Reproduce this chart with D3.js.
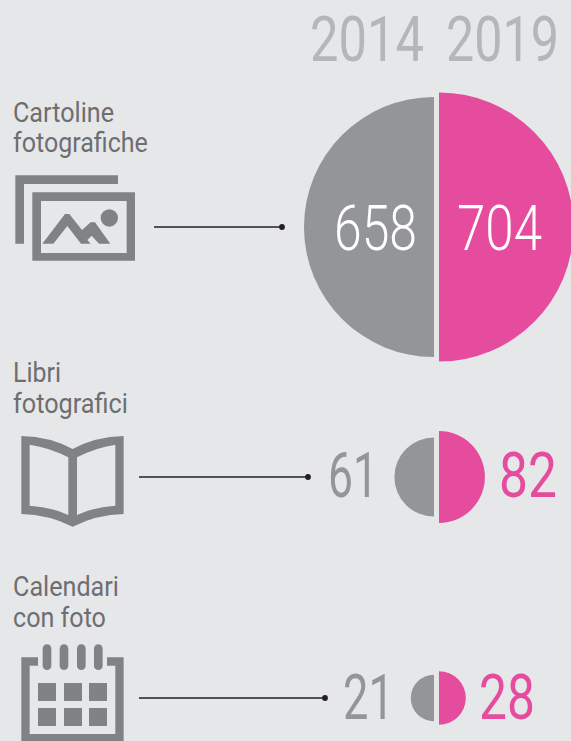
<!DOCTYPE html>
<html>
<head>
<meta charset="utf-8">
<script src="https://cdn.jsdelivr.net/npm/d3@7"></script>
<style>
  html, body { margin: 0; padding: 0; background: #e6e7e9; overflow: hidden; }
  svg { display: block; }
  text { font-family: Roboto, sans-serif; }
</style>
</head>
<body>
<div id="chart"></div>
<script>
// data
const years = ["2014", "2019"];
const categories = [["Cartoline", "fotografiche"], ["Libri", "fotografici"], ["Calendari", "con foto"]];
const values2014 = [658, 61, 21];
const values2019 = [704, 82, 28];

const width = 571, height = 741;
const grey = "#939598", pink = "#e54c9e", iconGrey = "#808285";

const svg = d3.select("#chart").append("svg")
  .attr("width", width)
  .attr("height", height)
  .style("background", "#e6e7e9");

// same scale for every half circle, the area carries the value
const rScale = d3.scaleSqrt().domain([0, 704]).range([0, 134.5]);
const arc = d3.arc().innerRadius(0);

// layout of each row
const rows = [
  {cy: 227, lineFrom: 154, lineTo: 282, labelY: [122, 152], labelW: [101, 135],
   left: {x: 334, w: 83, y: 250, fill: "#fff", weight: 300}, right: {x: 457, w: 85, y: 250, fill: "#fff", weight: 300}},
  {cy: 477, lineFrom: 139, lineTo: 308, labelY: [382, 413], labelW: [48, 115],
   left: {x: 328, w: 50, y: 497, fill: grey, weight: 400}, right: {x: 499, w: 58, y: 497, fill: pink, weight: 400}},
  {cy: 698, lineFrom: 139, lineTo: 325, labelY: [596, 627], labelW: [106, 93],
   left: {x: 343, w: 51, y: 719, fill: grey, weight: 400}, right: {x: 479, w: 56, y: 719, fill: pink, weight: 400}}
];

// squeeze the text horizontally to a given width (the reference uses a condensed cut)
function fitText(sel, x, y, w, size, fill, weight, str) {
  const t = sel.append("text")
    .attr("font-size", size)
    .attr("font-weight", weight)
    .attr("fill", fill)
    .text(str);
  const sx = w / t.node().getComputedTextLength();
  t.attr("transform", `translate(${x},${y}) scale(${sx},1)`);
  return t;
}

// year headings
fitText(svg, 310, 61, 114, 63, "#b4b6b9", 400, years[0]);
fitText(svg, 446, 61, 113, 63, "#b4b6b9", 400, years[1]);

rows.forEach((row, i) => {
  const g = svg.append("g");

  categories[i].forEach((str, k) => {
    fitText(g, 13, row.labelY[k], row.labelW[k], 28, "#6d6e71", 400, str);
  });

  g.append("line")
    .attr("x1", row.lineFrom).attr("x2", row.lineTo)
    .attr("y1", row.cy).attr("y2", row.cy)
    .attr("stroke", "#231f20").attr("stroke-width", 1.3);
  g.append("circle")
    .attr("cx", row.lineTo).attr("cy", row.cy).attr("r", 2.9)
    .attr("fill", "#231f20");

  g.append("path")
    .attr("transform", `translate(434,${row.cy})`)
    .attr("d", arc({outerRadius: rScale(values2014[i]), startAngle: Math.PI, endAngle: 2 * Math.PI}))
    .attr("fill", grey);
  g.append("path")
    .attr("transform", `translate(439,${row.cy})`)
    .attr("d", arc({outerRadius: rScale(values2019[i]), startAngle: 0, endAngle: Math.PI}))
    .attr("fill", pink);

  fitText(g, row.left.x, row.left.y, row.left.w, 63, row.left.fill, row.left.weight, values2014[i]);
  fitText(g, row.right.x, row.right.y, row.right.w, 63, row.right.fill, row.right.weight, values2019[i]);
});

// icons, traced at 3x
const photoIcon = svg.append("g").attr("transform", "translate(0,90) scale(0.3333)").attr("fill", iconGrey);
photoIcon.append("path").attr("d", "M46,256H354V282H72V461H46Z");
photoIcon.append("path").attr("fill-rule", "evenodd")
  .attr("d", "M97,307H405V512H97Z M123,333V489H380V333Z");
photoIcon.append("circle").attr("cx", 328).attr("cy", 384).attr("r", 26);
photoIcon.append("path")
  .attr("d", "M127,461L195,372H208L246,420L272,397H285L331,461H297L275,437L262,450L272,461H243L202,408L160,461Z");

const bookIcon = svg.append("g").attr("transform", "translate(0,350) scale(0.3333)").attr("fill", iconGrey);
bookIcon.append("path").attr("fill-rule", "evenodd")
  .attr("d", "M64,258Q150,260 218,297Q286,260 371,258V492Q290,494 218,530Q146,494 64,492Z"
    + " M89,284V467Q150,470 205,495V322Q150,293 89,284Z"
    + " M346,284Q286,293 231,322V495Q286,470 346,467Z");

const calIcon = svg.append("g").attr("transform", "translate(0,560) scale(0.3333)").attr("fill", iconGrey);
calIcon.append("path")
  .attr("d", "M64,292H114V317H89V522H346V317H321V292H371V547H64Z");
[128, 179, 231, 282].forEach(x => {
  calIcon.append("rect").attr("x", x).attr("y", 253).attr("width", 26).attr("height", 77).attr("rx", 13);
});
[369, 444].forEach(y => {
  [114, 192, 267].forEach(x => {
    calIcon.append("rect").attr("x", x).attr("y", y).attr("width", 54).attr("height", 54);
  });
});
</script>
</body>
</html>
